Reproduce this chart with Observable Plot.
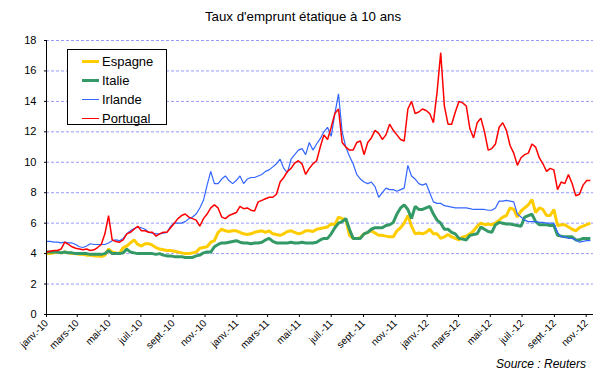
<!DOCTYPE html>
<html><head><meta charset="utf-8">
<script src="https://cdn.jsdelivr.net/npm/d3@7"></script>
<script src="https://cdn.jsdelivr.net/npm/@observablehq/plot@0.6"></script>
<style>
body{margin:0;background:#fff;font-family:"Liberation Sans",Arial,sans-serif;color:#000;}
#wrap{position:relative;width:606px;height:376px;overflow:hidden;background:#fff;}
#chart{position:absolute;left:0;top:0;}
#title{position:absolute;left:0;width:606px;top:9px;text-align:center;font-size:13.3px;line-height:16px;}
#source{position:absolute;right:20px;top:357px;font-style:italic;font-size:12px;line-height:14px;}
#legend{position:absolute;left:67px;top:49px;width:98px;height:74px;border:1px solid #000;background:#fff;}
.row{position:absolute;left:0;height:19px;width:98px;}
.sw{position:absolute;left:14px;width:17px;}
.lt{position:absolute;left:34px;top:0;font-size:13px;line-height:19px;white-space:nowrap;}
</style>
</head><body>
<div id="wrap">
<div id="chart"></div>
<div id="title">Taux d'emprunt étatique à 10 ans</div>
<div id="legend"></div>
<div id="source">Source : Reuters</div>
</div>
<script>
// weekly observations (Fridays)
const dates = [
"2010-01-01","2010-01-08","2010-01-15","2010-01-22","2010-01-29","2010-02-05","2010-02-12","2010-02-19","2010-02-26",
"2010-03-05","2010-03-12","2010-03-19","2010-03-26","2010-04-02","2010-04-09","2010-04-16","2010-04-23","2010-04-30",
"2010-05-07","2010-05-14","2010-05-21","2010-05-28","2010-06-04","2010-06-11","2010-06-18","2010-06-25",
"2010-07-02","2010-07-09","2010-07-16","2010-07-23","2010-07-30","2010-08-06","2010-08-13","2010-08-20","2010-08-27",
"2010-09-03","2010-09-10","2010-09-17","2010-09-24","2010-10-01","2010-10-08","2010-10-15","2010-10-22","2010-10-29",
"2010-11-05","2010-11-12","2010-11-19","2010-11-26","2010-12-03","2010-12-10","2010-12-17","2010-12-24","2010-12-31",
"2011-01-07","2011-01-14","2011-01-21","2011-01-28","2011-02-04","2011-02-11","2011-02-18","2011-02-25",
"2011-03-04","2011-03-11","2011-03-18","2011-03-25","2011-04-01","2011-04-08","2011-04-15","2011-04-22","2011-04-29",
"2011-05-06","2011-05-13","2011-05-20","2011-05-27","2011-06-03","2011-06-10","2011-06-17","2011-06-24",
"2011-07-01","2011-07-08","2011-07-15","2011-07-22","2011-07-29","2011-08-05","2011-08-12","2011-08-19","2011-08-26",
"2011-09-02","2011-09-09","2011-09-16","2011-09-23","2011-09-30","2011-10-07","2011-10-14","2011-10-21","2011-10-28",
"2011-11-04","2011-11-11","2011-11-18","2011-11-25","2011-12-02","2011-12-09","2011-12-16","2011-12-23","2011-12-30",
"2012-01-06","2012-01-13","2012-01-20","2012-01-27","2012-02-03","2012-02-10","2012-02-17","2012-02-24",
"2012-03-02","2012-03-09","2012-03-16","2012-03-23","2012-03-30","2012-04-06","2012-04-13","2012-04-20","2012-04-27",
"2012-05-04","2012-05-11","2012-05-18","2012-05-25","2012-06-01","2012-06-08","2012-06-15","2012-06-22","2012-06-29",
"2012-07-06","2012-07-13","2012-07-20","2012-07-27","2012-08-03","2012-08-10","2012-08-17","2012-08-24","2012-08-31",
"2012-09-07","2012-09-14","2012-09-21","2012-09-28","2012-10-05","2012-10-12","2012-10-19","2012-10-26",
"2012-11-02","2012-11-09"];

const espagne = [
4.0,4.0,4.05,4.1,4.05,4.1,4.05,4.0,4.0,3.95,3.95,3.9,3.9,3.85,3.85,3.8,3.9,4.3,
4.1,4.05,4.0,4.4,4.5,4.7,4.9,4.6,4.5,4.65,4.65,4.55,4.4,4.3,4.25,4.2,4.2,
4.15,4.1,4.05,4.0,4.0,4.05,4.1,4.35,4.4,4.45,4.75,4.85,5.4,5.6,5.5,5.45,5.5,5.5,
5.4,5.3,5.25,5.3,5.4,5.45,5.5,5.4,5.5,5.3,5.25,5.2,5.3,5.45,5.5,5.4,5.3,
5.35,5.5,5.5,5.45,5.6,5.65,5.7,5.75,5.95,5.9,6.4,6.3,6.25,5.2,5.0,5.0,5.05,
5.3,5.4,5.5,5.35,5.2,5.2,5.15,5.1,5.1,5.5,5.7,6.0,6.5,5.8,5.3,5.35,5.3,5.4,
5.6,5.3,5.3,5.0,5.1,5.25,5.1,5.0,4.9,5.1,5.15,5.3,5.5,5.8,6.0,5.9,5.95,
5.9,6.0,6.2,6.4,6.5,7.0,6.9,6.4,6.8,7.0,7.2,7.55,6.7,7.0,6.9,6.5,6.5,6.9,
5.85,5.9,5.9,5.75,5.6,5.5,5.7,5.8,5.9,6.0];

const italie = [
4.1,4.1,4.1,4.1,4.05,4.1,4.05,4.05,4.0,4.0,4.0,4.0,3.95,3.95,3.95,3.95,4.0,4.2,
4.0,4.0,4.0,4.05,4.3,4.1,4.05,4.0,4.0,4.0,4.0,4.0,3.95,4.0,3.9,3.85,3.85,
3.8,3.8,3.8,3.75,3.75,3.75,3.85,3.9,4.05,4.1,4.1,4.45,4.6,4.7,4.7,4.75,4.8,4.85,
4.75,4.7,4.7,4.65,4.7,4.7,4.75,4.9,5.0,4.8,4.7,4.7,4.7,4.7,4.75,4.7,4.7,
4.75,4.7,4.7,4.7,4.75,4.9,5.0,5.0,5.3,5.7,6.0,6.1,6.3,5.6,5.0,5.0,5.0,
5.3,5.4,5.6,5.7,5.7,5.7,5.85,5.9,6.05,6.6,7.0,7.2,6.9,6.3,7.1,6.9,6.9,7.0,
7.1,6.6,6.2,6.0,5.6,5.6,5.4,5.3,5.0,4.95,4.9,5.2,5.25,5.3,5.75,5.6,5.45,
5.4,5.9,6.05,6.0,5.95,5.95,5.9,5.85,5.8,6.4,6.5,6.6,6.1,5.9,5.9,5.9,5.85,5.85,
5.2,5.15,5.1,5.1,5.1,4.9,4.9,5.0,5.0,5.0];

const irlande = [
4.8,4.8,4.75,4.75,4.7,4.75,4.7,4.7,4.6,4.45,4.4,4.5,4.65,4.6,4.6,4.6,4.6,4.7,
4.85,4.9,4.85,5.0,5.3,5.5,5.65,5.75,5.7,5.6,5.4,5.35,5.3,5.3,5.35,5.4,5.8,
6.0,6.0,6.0,6.1,6.3,6.4,6.6,7.0,7.5,8.5,9.4,8.6,8.6,8.9,9.1,8.8,8.6,8.8,
9.1,8.6,8.9,9.0,9.0,9.1,9.2,9.4,9.5,9.7,9.9,10.2,9.6,9.3,10.2,10.5,10.8,
10.9,10.5,11.3,10.8,11.2,11.55,12.0,12.3,11.7,13.2,14.5,12.0,11.0,10.4,9.9,9.2,8.9,
8.7,8.6,8.7,8.4,7.7,8.0,8.3,8.2,8.2,8.1,8.2,8.3,9.8,9.1,8.9,8.6,8.5,8.6,
8.0,7.4,7.3,7.3,7.15,7.1,7.05,7.0,7.0,7.0,7.0,6.95,6.9,6.9,6.9,6.9,6.85,
6.85,7.0,7.45,7.45,7.5,7.45,7.4,6.6,6.4,6.2,6.1,6.1,6.1,6.05,6.05,6.0,6.0,6.0,
5.4,5.1,5.1,5.0,5.0,4.9,4.75,4.8,4.85,4.85];

const portugal = [
4.1,4.15,4.2,4.2,4.3,4.75,4.6,4.45,4.35,4.3,4.25,4.3,4.2,4.25,4.4,4.6,5.3,6.5,
4.9,4.8,4.75,4.9,5.3,5.4,5.6,5.8,5.5,5.5,5.4,5.4,5.15,5.3,5.4,5.4,5.7,
6.0,6.3,6.5,6.6,6.4,6.3,6.2,5.8,6.3,6.6,7.0,7.2,7.0,6.4,6.3,6.5,6.6,6.7,
7.1,6.95,7.0,6.85,6.8,7.4,7.5,7.6,7.7,7.7,7.9,8.7,9.0,9.4,9.6,9.95,10.1,
9.9,9.2,9.6,9.9,10.1,11.0,11.8,11.5,12.3,13.2,13.5,11.3,11.0,10.8,10.8,11.3,11.4,
10.5,11.3,11.6,12.1,11.9,11.5,11.8,12.5,12.1,11.8,11.5,11.4,13.5,14.0,13.2,13.3,13.5,13.4,
13.2,12.6,14.6,17.2,13.7,12.5,12.5,13.3,14.0,13.9,13.7,12.2,11.6,12.6,12.9,12.0,10.8,
10.9,11.2,12.3,12.6,12.1,11.1,10.6,9.8,10.3,10.5,10.6,11.2,11.0,10.3,9.9,9.4,9.6,9.5,
8.2,8.7,8.6,9.2,8.6,7.8,7.9,8.5,8.8,8.8];

const seriesNames = ["Espagne", "Italie", "Irlande", "Portugal"];
const seriesValues = [espagne, italie, irlande, portugal];
const seriesColors = ["#FFCC00", "#339966", "#3366FF", "#FF0000"];
const seriesWidths = [3, 3, 1.2, 1.5];

const yTicks = [0, 2, 4, 6, 8, 10, 12, 14, 16, 18];
const xTickDates = ["2010-01-01","2010-03-01","2010-05-01","2010-07-01","2010-09-01","2010-11-01",
"2011-01-01","2011-03-01","2011-05-01","2011-07-01","2011-09-01","2011-11-01",
"2012-01-01","2012-03-01","2012-05-01","2012-07-01","2012-09-01","2012-11-01"];
const xTickLabels = ["janv.-10","mars-10","mai-10","juil.-10","sept.-10","nov.-10",
"janv.-11","mars-11","mai-11","juil.-11","sept.-11","nov.-11",
"janv.-12","mars-12","mai-12","juil.-12","sept.-12","nov.-12"];

const parse = d3.utcParse("%Y-%m-%d");
const tickDates = xTickDates.map(parse);
const labelOf = new Map(tickDates.map((d, i) => [+d, xTickLabels[i]]));

const lineMarks = seriesNames.map((name, s) =>
  Plot.line(dates.map((d, i) => ({date: parse(d), value: seriesValues[s][i]})),
    {x: "date", y: "value", stroke: seriesColors[s], strokeWidth: seriesWidths[s], strokeLinejoin: "miter", strokeLinecap: "butt"})
);

const chart = Plot.plot({
  width: 606, height: 376,
  marginTop: 40, marginBottom: 62, marginLeft: 46, marginRight: 13,
  style: {fontFamily: "'Liberation Sans', Arial, sans-serif", fontSize: "11px", color: "#000", background: "transparent", overflow: "visible"},
  x: {type: "utc", domain: [parse("2010-01-01"), parse("2012-11-15")]},
  y: {domain: [0, 18]},
  marks: [
    Plot.gridY(yTicks.filter(d => d > 0), {stroke: "#9999FF", strokeOpacity: 1, strokeDasharray: "3,2"}),
    Plot.axisY(yTicks, {tickSize: 2, tickPadding: 8, fontSize: 11, label: null, stroke: "#000"}),
    Plot.axisX(tickDates, {tickSize: 3, tickPadding: 4, tickRotate: -45, textAnchor: "end", fontSize: 10,
      tickFormat: d => labelOf.get(+d), label: null, stroke: "#000"}),
    ...lineMarks,
    Plot.ruleX([parse("2010-01-01")], {stroke: "#000"}),
    Plot.ruleY([0], {stroke: "#000"})
  ]
});
document.getElementById("chart").appendChild(chart);

const legend = document.getElementById("legend");
seriesNames.forEach((name, s) => {
  const row = document.createElement("div");
  row.className = "row";
  row.style.top = (2 + s * 19) + "px";
  const sw = document.createElement("div");
  sw.className = "sw";
  sw.style.height = seriesWidths[s] + "px";
  sw.style.top = (9.5 - seriesWidths[s] / 2) + "px";
  sw.style.background = seriesColors[s];
  const t = document.createElement("div");
  t.className = "lt";
  t.textContent = name;
  row.appendChild(sw); row.appendChild(t);
  legend.appendChild(row);
});
</script>
</body></html>
